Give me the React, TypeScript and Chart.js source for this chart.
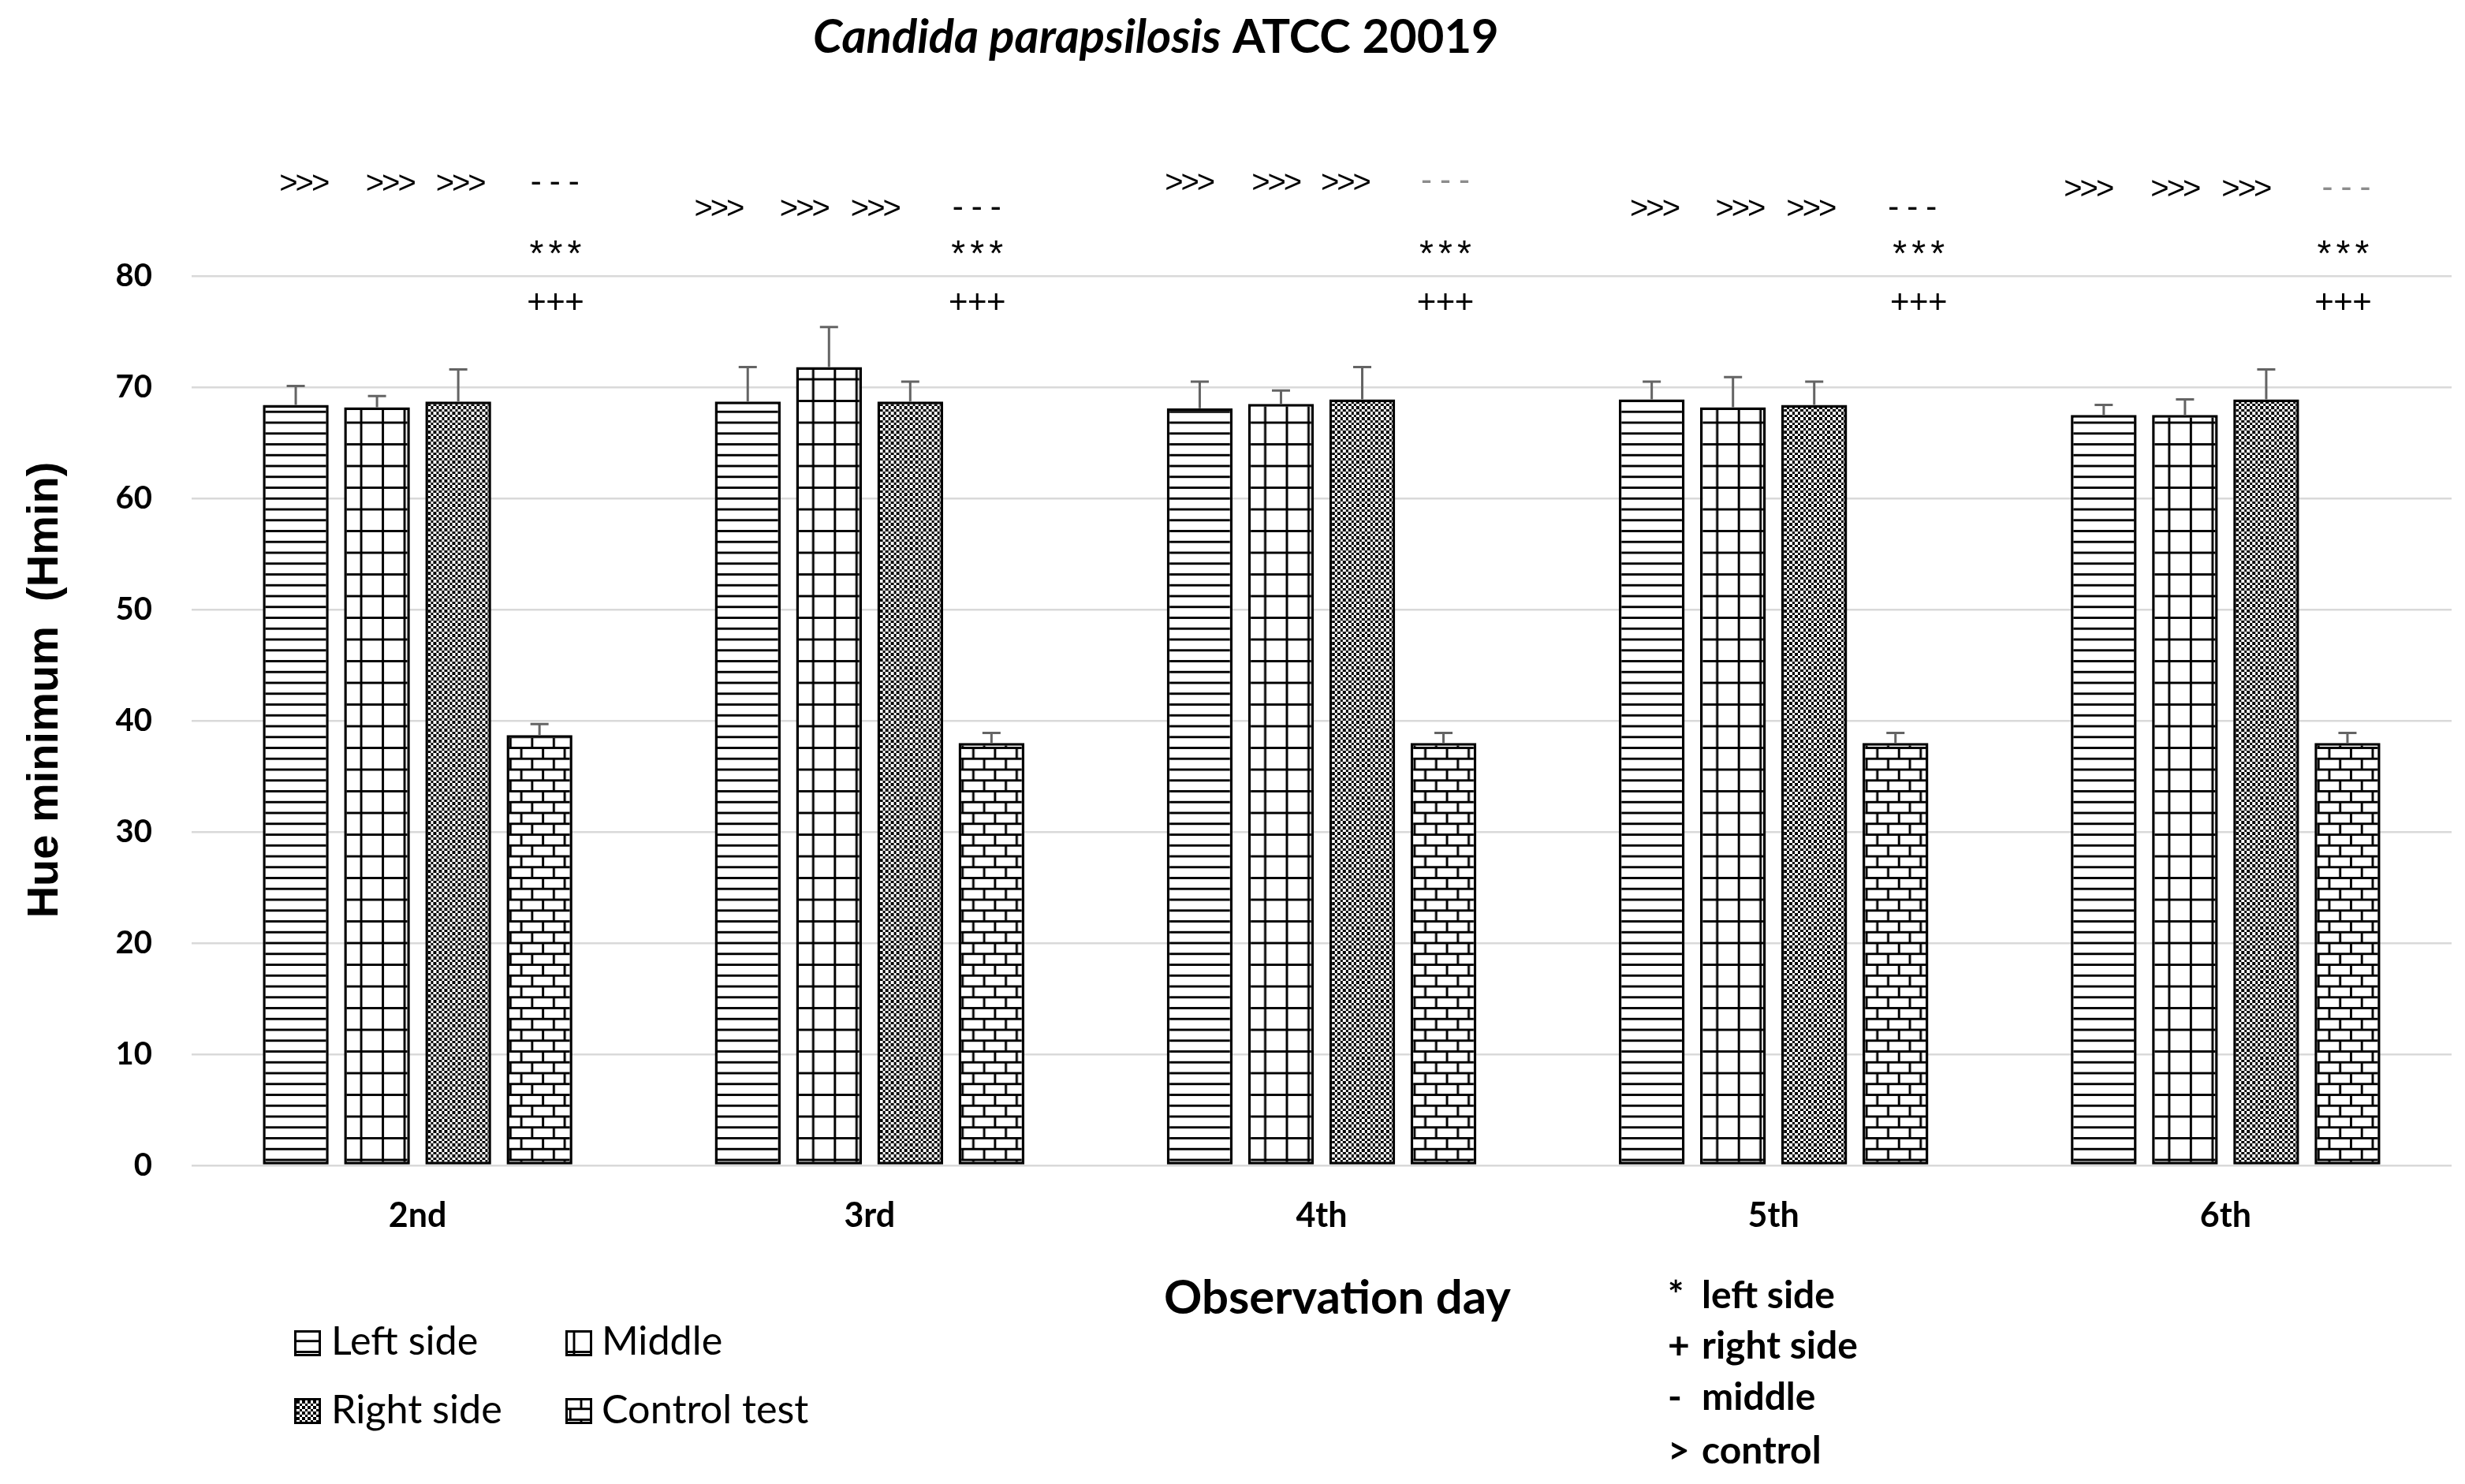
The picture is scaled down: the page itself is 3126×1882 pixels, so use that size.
import React, { useEffect, useRef } from 'react';
import { Chart, registerables } from 'chart.js';

Chart.register(...registerables);

const W = 3126;
const H = 1882;

// ---------- data ----------
const categories = ['2nd', '3rd', '4th', '5th', '6th'];
const seriesLabels = ['Left side', 'Middle', 'Right side', 'Control test'];
const leftSide = [68.4, 68.7, 68.1, 68.9, 67.5];
const middle = [68.2, 71.8, 68.5, 68.2, 67.5];
const rightSide = [68.7, 68.7, 68.9, 68.4, 68.9];
const controlTest = [38.7, 38.0, 38.0, 38.0, 38.0];
const leftSideErr = [1.7, 3.1, 2.4, 1.6, 0.9];
const middleErr = [1.0, 3.6, 1.2, 2.7, 1.4];
const rightSideErr = [2.9, 1.8, 2.9, 2.1, 2.7];
const controlTestErr = [1.0, 0.9, 0.9, 0.9, 0.9];
const yTickValues = [0, 10, 20, 30, 40, 50, 60, 70, 80];
const yMax = 90;

// ---------- text ----------
const titleItalic = 'Candida parapsilosis';
const titleRest = ' ATCC 20019';
const yAxisTitle = 'Hue minimum  (Hmin)';
const xAxisTitle = 'Observation day';
const keySymbols = ['*', '+', '-', '>'];
const keyTexts = ['left side', 'right side', 'middle', 'control'];

// significance marks
const markTop = ['>>>', '>>>', '>>>', '---'];
const markTopLevel = [88.4, 86.1, 88.5, 86.1, 87.9];
const markTopOffset = [
  [-0.25, -0.059, 0.096, 0.304],
  [-0.332, -0.143, 0.014, 0.237],
  [-0.291, -0.099, 0.054, 0.274],
  [-0.262, -0.073, 0.084, 0.307],
  [-0.302, -0.11, 0.047, 0.267],
];
const markTopFaded = [false, false, true, false, true];
const markStar = '***';
const markPlus = '+++';
const markStarLevel = 82.6;
const markPlusLevel = 77.7;
const markLowerOffset = [0.305, 0.238, 0.274, 0.321, 0.26];

const seriesValues = [leftSide, middle, rightSide, controlTest];
const seriesErrors = [leftSideErr, middleErr, rightSideErr, controlTestErr];
const patternKinds = ['hlines', 'grid', 'checker', 'brick'];

const CAT_PCT = 0.719;
const BAR_PCT = 0.81;

// ---------- patterns ----------
const U = 13.75;
const LW = 2.9;
const TS = 110;
const tileCache: Record<string, HTMLCanvasElement> = {};

function makeTile(kind: string): HTMLCanvasElement {
  if (tileCache[kind]) return tileCache[kind];
  const c = document.createElement('canvas');
  c.width = TS;
  c.height = TS;
  const g = c.getContext('2d')!;
  g.fillStyle = '#ffffff';
  g.fillRect(0, 0, TS, TS);
  g.fillStyle = '#000000';
  if (kind === 'hlines') {
    for (let i = 0; i <= 8; i++) g.fillRect(0, i * U - LW / 2, TS, LW);
  } else if (kind === 'grid') {
    for (let i = 0; i <= 4; i++) {
      g.fillRect(0, i * 2 * U - LW / 2, TS, LW);
      g.fillRect(i * 2 * U - LW / 2, 0, LW, TS);
    }
  } else if (kind === 'brick') {
    for (let i = 0; i <= 8; i++) g.fillRect(0, i * U - LW / 2, TS, LW);
    for (let r = 0; r < 8; r++) {
      const off = (r % 2) * U;
      for (let j = -1; j <= 4; j++) {
        g.fillRect(j * 2 * U + off - LW / 2, r * U, LW, U);
      }
    }
  } else if (kind === 'checker') {
    const n = 32;
    const cs = TS / n;
    for (let i = 0; i < n; i++) {
      for (let j = 0; j < n; j++) {
        if ((i + j) % 2 === 0) {
          const x0 = Math.round(i * cs);
          const x1 = Math.round((i + 1) * cs);
          const y0 = Math.round(j * cs);
          const y1 = Math.round((j + 1) * cs);
          g.fillRect(x0, y0, x1 - x0, y1 - y0);
        }
      }
    }
  }
  tileCache[kind] = c;
  return c;
}

function makePattern(ctx: CanvasRenderingContext2D, kind: string, tx: number, ty: number) {
  const p = ctx.createPattern(makeTile(kind), 'repeat');
  if (p) p.setTransform(new DOMMatrix().translate(tx, ty));
  return p;
}

function barPattern(c: any, di: number) {
  const chart = c.chart;
  const xs = chart.scales.x;
  const ys = chart.scales.y;
  if (!xs || !ys || typeof c.dataIndex !== 'number') return '#ffffff';
  const center = xs.getPixelForValue(c.dataIndex);
  const catW = xs.width / categories.length;
  const chunk = (catW * CAT_PCT) / 4;
  const barW = chunk * BAR_PCT;
  const left = center + (di - 1.5) * chunk - barW / 2;
  const zero = ys.getPixelForValue(0);
  const kind = patternKinds[di];
  let tx = left;
  if (kind === 'grid') tx = left + 21.7;
  if (kind === 'brick') tx = left + 18.7;
  return makePattern(chart.ctx, kind, tx, zero - 7) || '#ffffff';
}

// ---------- helpers ----------
function fitSize(ctx: CanvasRenderingContext2D, parts: [string, string][], family: string, target: number) {
  let w = 0;
  for (const [t, style] of parts) {
    ctx.font = `${style} 100px ${family}`;
    w += ctx.measureText(t).width;
  }
  return (100 * target) / w;
}

function drawTriplet(ctx: CanvasRenderingContext2D, s: string, cx: number, cy: number, pitch: number, size: number) {
  const chars = s.split('');
  ctx.font = `${size}px "Liberation Sans"`;
  ctx.textAlign = 'center';
  ctx.textBaseline = 'alphabetic';
  const m = ctx.measureText(chars[0]);
  const base = cy + (m.actualBoundingBoxAscent - m.actualBoundingBoxDescent) / 2;
  chars.forEach((ch, k) => {
    ctx.fillText(ch, cx + (k - (chars.length - 1) / 2) * pitch, base);
  });
}

function drawSwatch(ctx: CanvasRenderingContext2D, kind: string, x: number, y: number, w: number, h: number) {
  const tx = kind === 'grid' ? x + 11 : kind === 'brick' ? x + 20 : x;
  const p = makePattern(ctx, kind, tx, y);
  ctx.fillStyle = p || '#fff';
  ctx.fillRect(x, y, w, h);
  ctx.strokeStyle = '#000';
  ctx.lineWidth = 3;
  ctx.strokeRect(x + 1.5, y + 1.5, w - 3, h - 3);
}

const errorBarPlugin = {
  id: 'errorBars',
  afterDatasetsDraw(chart: any) {
    const ctx: CanvasRenderingContext2D = chart.ctx;
    const ys = chart.scales.y;
    ctx.save();
    ctx.strokeStyle = '#646464';
    ctx.lineWidth = 3;
    chart.data.datasets.forEach((ds: any, di: number) => {
      const meta = chart.getDatasetMeta(di);
      meta.data.forEach((bar: any, i: number) => {
        const v = ds.data[i];
        const e = seriesErrors[di][i];
        const yTop = ys.getPixelForValue(v);
        const yErr = ys.getPixelForValue(v + e);
        ctx.beginPath();
        ctx.moveTo(bar.x, yTop);
        ctx.lineTo(bar.x, yErr);
        ctx.moveTo(bar.x - 11.5, yErr);
        ctx.lineTo(bar.x + 11.5, yErr);
        ctx.stroke();
      });
    });
    ctx.restore();
  },
};

const decorPlugin = {
  id: 'decor',
  afterDraw(chart: any) {
    const ctx: CanvasRenderingContext2D = chart.ctx;
    const xs = chart.scales.x;
    const ys = chart.scales.y;
    const catW = xs.width / categories.length;
    ctx.save();
    ctx.fillStyle = '#000';
    ctx.textAlign = 'left';
    ctx.textBaseline = 'alphabetic';

    // title
    const tSize = fitSize(ctx, [[titleItalic, 'italic bold'], [titleRest, 'bold']], 'Lato', 870);
    let x = 1031;
    ctx.font = `italic bold ${tSize}px Lato`;
    ctx.fillText(titleItalic, x, 67);
    x += ctx.measureText(titleItalic).width;
    ctx.font = `bold ${tSize}px Lato`;
    ctx.fillText(titleRest, x, 67);

    // y axis title
    ctx.save();
    ctx.translate(73, 875);
    ctx.rotate(-Math.PI / 2);
    ctx.font = 'bold 56px "Liberation Sans"';
    ctx.textAlign = 'center';
    ctx.fillText(yAxisTitle, 0, 0);
    ctx.restore();

    // x axis title
    const xtSize = fitSize(ctx, [[xAxisTitle, 'bold']], 'Lato', 440);
    ctx.font = `bold ${xtSize}px Lato`;
    ctx.textAlign = 'left';
    ctx.fillText(xAxisTitle, 1476, 1666);

    // legend
    const lgPos = [
      [373, 1687, 420, 1718],
      [717, 1687, 763, 1718],
      [373, 1773, 420, 1805],
      [717, 1773, 763, 1805],
    ];
    const s1 = fitSize(ctx, [[seriesLabels[0], 'normal']], 'Lato', 183);
    const s2 = fitSize(ctx, [[seriesLabels[3], 'normal']], 'Lato', 267);
    const lgSize = (s1 + s2) / 2;
    seriesLabels.forEach((lab, i) => {
      const [sx, sy, tx, ty] = lgPos[i];
      drawSwatch(ctx, patternKinds[i], sx, sy, 34, 33);
      ctx.fillStyle = '#000';
      ctx.font = `${lgSize}px Lato`;
      ctx.textAlign = 'left';
      ctx.fillText(lab, tx, ty);
    });

    // key notes
    const keyBase = [1659, 1723, 1788, 1856];
    ctx.font = 'bold 48px Lato';
    keySymbols.forEach((sym, i) => {
      ctx.fillText(sym, 2115, keyBase[i]);
      ctx.fillText(keyTexts[i], 2158, keyBase[i]);
    });

    // significance marks
    categories.forEach((_, gi) => {
      const cx = xs.getPixelForValue(gi);
      const yTopRow = ys.getPixelForValue(markTopLevel[gi]);
      markTop.forEach((m, k) => {
        const px = cx + markTopOffset[gi][k] * catW;
        const isDash = m.indexOf('-') >= 0;
        ctx.fillStyle = isDash && markTopFaded[gi] ? '#8c8c8c' : '#000';
        if (isDash) drawTriplet(ctx, m, px, yTopRow, 24, 42);
        else drawTriplet(ctx, m, px, yTopRow, 20.3, 40);
      });
      ctx.fillStyle = '#000';
      const lx = cx + markLowerOffset[gi] * catW;
      drawTriplet(ctx, markStar, lx, ys.getPixelForValue(markStarLevel), 24, 46);
      drawTriplet(ctx, markPlus, lx, ys.getPixelForValue(markPlusLevel), 24, 42);
    });

    ctx.restore();
  },
};

export default function App() {
  const ref = useRef<HTMLCanvasElement>(null);
  useEffect(() => {
    const canvas = ref.current;
    if (!canvas) return;
    const chart = new Chart(canvas, {
      type: 'bar',
      data: {
        labels: categories,
        datasets: seriesLabels.map((label, di) => ({
          label,
          data: seriesValues[di],
          backgroundColor: (c: any) => barPattern(c, di),
          borderColor: '#000000',
          borderWidth: 3.5,
          borderSkipped: false,
          categoryPercentage: CAT_PCT,
          barPercentage: BAR_PCT,
        })),
      },
      options: {
        animation: false,
        responsive: false,
        maintainAspectRatio: false,
        devicePixelRatio: 1,
        events: [],
        layout: { padding: { top: 209, left: 0, right: 17, bottom: 0 } },
        plugins: {
          legend: { display: false },
          title: { display: false },
          tooltip: { enabled: false },
        },
        scales: {
          x: {
            afterFit: (s: any) => {
              s.height = 404;
            },
            grid: { display: false, drawTicks: false },
            border: { display: false },
            ticks: {
              padding: 38,
              color: '#000',
              font: { family: 'Lato', weight: 'bold', size: 43 },
            },
          },
          y: {
            min: 0,
            max: yMax,
            afterFit: (s: any) => {
              s.width = 243;
            },
            afterBuildTicks: (s: any) => {
              s.ticks = yTickValues.map((v) => ({ value: v }));
            },
            grid: { color: '#d9d9d9', lineWidth: 2.5, drawTicks: false },
            border: { display: false },
            ticks: {
              padding: 50,
              color: '#000',
              font: { family: 'Lato', weight: 'bold', size: 40 },
              callback: (v: any) => String(v),
            },
          },
        },
      },
      plugins: [errorBarPlugin, decorPlugin],
    } as any);
    return () => chart.destroy();
  }, []);
  return (
    <div style={{ position: 'absolute', left: 0, top: 0, width: W, height: H, background: '#ffffff' }}>
      <canvas ref={ref} width={W} height={H} style={{ display: 'block', width: W, height: H }} />
    </div>
  );
}
